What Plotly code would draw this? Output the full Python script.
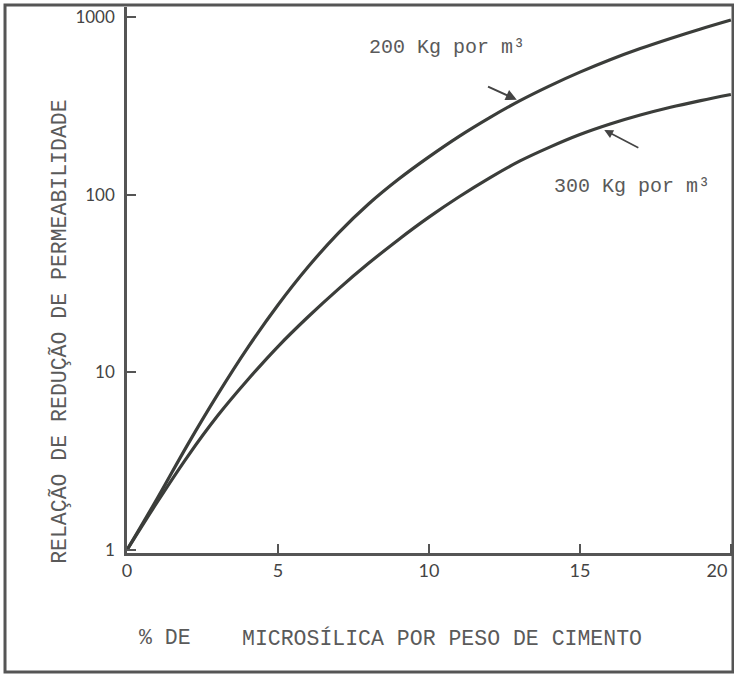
import numpy as np
import plotly.graph_objects as go

# ---- data ----
pct_microsilica = [0, 1, 2, 3, 4, 5, 6, 7, 8, 9, 10, 11, 12, 13, 14, 15, 16, 17, 18, 19, 20]
ratio_200kg = [1, 1.95, 3.9, 7.5, 13.8, 24, 39.4, 61, 89, 123, 164, 214, 272, 339, 412, 492, 578, 668, 762, 862, 968]
ratio_300kg = [1, 1.86, 3.35, 5.7, 9.1, 14.0, 20.6, 29.5, 41.2, 56.2, 75, 97.7, 124.5, 155, 186, 219, 251, 282, 312, 340, 368]
x_tick_vals = [0, 5, 10, 15, 20]
x_tick_text = ["0", "5", "10", "15", "20\u00a0\u00a0\u00a0\u00a0\u00a0\u00a0"]
y_tick_vals = [1, 10, 100, 1000]
y_tick_text = ["1", "10", "100", "1000"]
label_200 = "200 Kg por m³"
label_300 = "300 Kg por m³"
y_title = "RELAÇÃO DE REDUÇÃO DE PERMEABILIDADE"
x_title_a = "% DE"
x_title_b = "MICROSÍLICA POR PESO DE CIMENTO"

LINE = "#3b3d3a"
AX = "#555555"
TXT = "#5a5a5a"

fig = go.Figure()
fig.add_trace(go.Scatter(x=pct_microsilica, y=ratio_200kg, mode="lines",
                         line=dict(color=LINE, width=3.2, shape="spline", smoothing=1.0),
                         name=label_200, showlegend=False))
fig.add_trace(go.Scatter(x=pct_microsilica, y=ratio_300kg, mode="lines",
                         line=dict(color=LINE, width=3.2, shape="spline", smoothing=1.0),
                         name=label_300, showlegend=False))

def interp_log(xq, ys):
    return float(np.interp(xq, pct_microsilica, np.log10(ys)))

mono = "Liberation Mono"

annotations = [
    # series labels
    dict(x=0.396, y=0.925, xref="paper", yref="paper", text=label_200, showarrow=False,
         xanchor="left", yanchor="middle", font=dict(family=mono, size=20, color=TXT)),
    dict(x=0.701, y=0.672, xref="paper", yref="paper", text=label_300, showarrow=False,
         xanchor="left", yanchor="middle", font=dict(family=mono, size=20, color=TXT)),
    # arrows pointing to curves
    dict(x=13, y=interp_log(13, ratio_200kg), xref="x", yref="y", text="",
         showarrow=True, ax=-33, ay=-15, arrowhead=2, arrowsize=1.1, arrowwidth=2,
         arrowcolor="#444", standoff=3),
    dict(x=15.66, y=interp_log(15.66, ratio_300kg), xref="x", yref="y", text="",
         showarrow=True, ax=40, ay=21, arrowhead=2, arrowsize=1.1, arrowwidth=1.6,
         arrowcolor="#444", standoff=5),
    # axis titles
    dict(x=-0.1106, y=0.405, xref="paper", yref="paper", text=y_title, showarrow=False,
         textangle=-90, xanchor="center", yanchor="middle",
         font=dict(family=mono, size=21.5, color=TXT)),
    dict(x=0.0165, y=-0.1557, xref="paper", yref="paper", text=x_title_a, showarrow=False,
         xanchor="left", yanchor="middle", font=dict(family=mono, size=21.5, color=TXT)),
    dict(x=0.1865, y=-0.1557, xref="paper", yref="paper", text=x_title_b, showarrow=False,
         xanchor="left", yanchor="middle", font=dict(family=mono, size=21.5, color=TXT)),
]

shapes = [
    dict(type="rect", xref="paper", yref="paper", x0=-0.2013, y0=-0.218, x1=1.0, y1=1.0037,
         line=dict(color=AX, width=3), fillcolor="rgba(0,0,0,0)", layer="above"),
]

fig.update_layout(
    width=734, height=675,
    margin=dict(l=127, r=1, t=7, b=122, autoexpand=False),
    paper_bgcolor="white", plot_bgcolor="white",
    annotations=annotations, shapes=shapes,
    xaxis=dict(range=[0, 20.07], tickvals=x_tick_vals, ticktext=x_tick_text,
               showgrid=False, zeroline=False, showline=True, linecolor=AX, linewidth=2.5,
               ticks="inside", ticklen=9, tickwidth=2, tickcolor=AX, ticklabeloverflow="allow",
               automargin=False,
               tickfont=dict(family="Lato", size=18, color="#444")),
    yaxis=dict(type="log", range=[-0.0169, 3.059], tickvals=y_tick_vals, ticktext=y_tick_text,
               showgrid=False, zeroline=False, showline=True, linecolor=AX, linewidth=2.5,
               ticks="inside", ticklen=9, tickwidth=2, tickcolor=AX, ticklabelstandoff=6,
               automargin=False,
               tickfont=dict(family="Lato", size=17, color="#444")),
)

fig.write_html("out.html")
